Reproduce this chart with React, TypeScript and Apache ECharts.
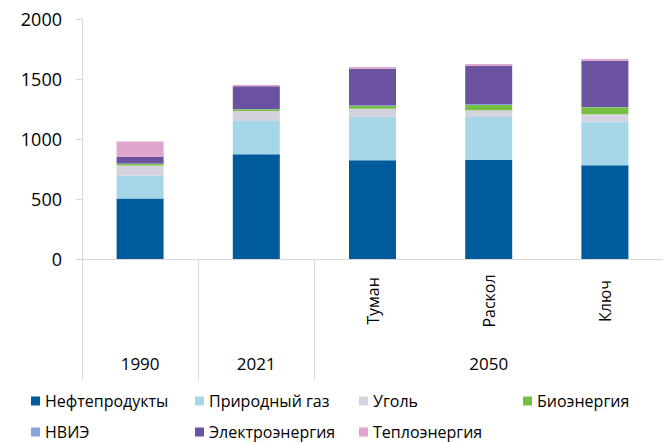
import React, { useEffect, useRef } from "react";
import * as echarts from "echarts";

const categories = ["1990", "2021", "Туман", "Раскол", "Ключ"];
const groupLabels = ["1990", "2021", "", "2050", ""];
const groupStarts = [0, 1, 2];

const seriesNames = [
  "Нефтепродукты",
  "Природный газ",
  "Уголь",
  "Биоэнергия",
  "НВИЭ",
  "Электроэнергия",
  "Теплоэнергия",
];
const oil = [505, 872, 822, 825, 781];
const gas = [190, 278, 364, 358, 363];
const coal = [84, 83, 67, 56, 62];
const bio = [12, 14, 22, 44, 58];
const renewables = [4, 3, 8, 9, 3];
const electricity = [55, 189, 303, 319, 386];
const heat = [130, 10, 14, 14, 14];
const seriesData = [oil, gas, coal, bio, renewables, electricity, heat];
const colors = ["#005B9C", "#A6D7E8", "#D4D2DC", "#76BF43", "#8A9FDB", "#6A52A0", "#DFA5CC"];

const yTicks = { min: 0, max: 2000, interval: 500 };

const FONT = "'Open Sans', sans-serif";

// legend layout: [left, top]
const legendPos: [number, number][] = [
  [31, 393],
  [195, 393],
  [359, 393],
  [523, 393],
  [31, 424],
  [195, 424],
  [359, 424],
];

export default function App() {
  const ref = useRef<HTMLDivElement>(null);
  useEffect(() => {
    if (!ref.current) return;
    const chart = echarts.init(ref.current, null, { renderer: "svg" });
    const option: any = {
      animation: false,
      grid: { left: 82, right: -9, top: 19, bottom: 184 },
      legend: seriesNames.map((n, i) => ({
        data: [n],
        left: legendPos[i][0],
        top: legendPos[i][1],
        padding: 0,
        icon: "rect",
        itemWidth: 9,
        itemHeight: 9,
        itemGap: 7,
        selectedMode: false,
        textStyle: { fontFamily: FONT, fontSize: 16, color: "#000", padding: [0, 0, 0, 0], lineHeight: 15 },
      })),
      xAxis: [
        {
          type: "category",
          data: categories,
          position: "bottom",
          axisLine: { show: true, lineStyle: { color: "#D9D9D9", width: 1 } },
          axisTick: { show: false },
          axisLabel: {
            interval: 0,
            rotate: 90,
            align: "center",
            verticalAlign: "middle",
            margin: 42,
            fontFamily: FONT,
            fontSize: 16,
            color: "#000",
            formatter: (v: string, i: number) => (groupLabels[i] === "" || i === 3 ? v : ""),
          },
        },
        {
          type: "category",
          data: categories,
          position: "bottom",
          axisLine: { show: false },
          axisTick: {
            show: true,
            length: 121,
            interval: (i: number) => groupStarts.includes(i),
            lineStyle: { color: "#D9D9D9", width: 1 },
          },
          axisLabel: {
            interval: 0,
            margin: 96,
            fontFamily: FONT,
            fontSize: 17,
            color: "#000",
            formatter: (_v: string, i: number) => groupLabels[i],
          },
        },
      ],
      yAxis: {
        type: "value",
        min: yTicks.min,
        max: yTicks.max,
        interval: yTicks.interval,
        axisLine: { show: true, lineStyle: { color: "#D9D9D9", width: 1 } },
        axisTick: { show: true, length: 6, lineStyle: { color: "#D9D9D9" } },
        splitLine: { show: false },
        axisLabel: {
          margin: 20,
          fontFamily: FONT,
          fontSize: 18,
          color: "#000",
          formatter: (v: number) => String(v),
        },
      },
      series: seriesNames.map((n, i) => ({
        name: n,
        type: "bar",
        stack: "total",
        xAxisIndex: 0,
        barWidth: 47,
        data: seriesData[i],
        itemStyle: { color: colors[i] },
      })),
    };
    chart.setOption(option);
    return () => chart.dispose();
  }, []);
  return <div ref={ref} style={{ width: 663, height: 443, position: "absolute", left: 0, top: 0 }} />;
}
